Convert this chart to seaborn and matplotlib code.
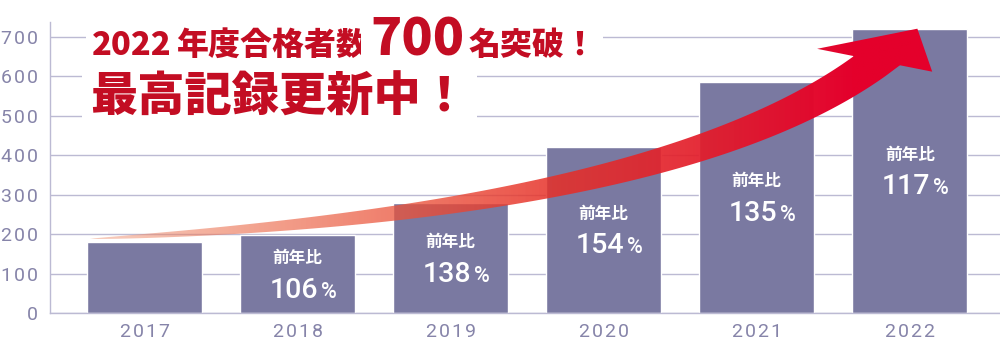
import numpy as np
import pandas as pd
import matplotlib
matplotlib.use("Agg")
import matplotlib.pyplot as plt
import seaborn as sns
from matplotlib.patches import Polygon

# ---- data -------------------------------------------------------------
years = ["2017", "2018", "2019", "2020", "2021", "2022"]
passers = [180, 197, 278, 421, 587, 721]
yoy_pct = [None, 106, 138, 154, 135, 117]
yticks = [0, 100, 200, 300, 400, 500, 600, 700]

headline_1 = ["2022", "年度合格者数", "700", "名突破！"]
headline_2 = "最高記録更新中！"
yoy_caption = "前年比"

# ---- style ------------------------------------------------------------
BAR = "#7a79a1"
GRID = "#bcbad3"
TICK = "#8684a9"
RED = "#c30d23"
CJK = ["Noto Sans CJK JP", "DejaVu Sans"]
HAIR = "\u200a"


def spaced(s):
    """Open up digit spacing a little, like the tracked axis lettering."""
    return HAIR.join(str(s))


sns.set_theme(style="white")
plt.rcParams["font.family"] = ["Roboto", "DejaVu Sans"]

W, H = 1000, 342
fig = plt.figure(figsize=(W / 100, H / 100), dpi=100, facecolor="white")
ax = fig.add_axes([50 / W, 29 / H, 950 / W, 291 / H])

df = pd.DataFrame({"year": years, "passers": passers})
sns.barplot(data=df, x="year", y="passers", color=BAR, saturation=1,
            width=0.75, ax=ax, zorder=2)

XLIM = (-0.618, 5.59)
YLIM = (0, 738)
ax.set_xlim(*XLIM)
ax.set_ylim(*YLIM)
ax.set_yticks(yticks)
ax.set_yticklabels([spaced(v) for v in yticks])
ax.set_xticks(range(len(years)))
ax.set_xticklabels([spaced(y) for y in years])
ax.set_xlabel("")
ax.set_ylabel("")
ax.yaxis.grid(True, color=GRID, lw=1.0)
ax.set_axisbelow(True)
for side in ("top", "right"):
    ax.spines[side].set_visible(False)
for side in ("left", "bottom"):
    ax.spines[side].set_color(GRID)
    ax.spines[side].set_linewidth(1.0)
ax.tick_params(axis="y", length=0, pad=8.5, labelsize=14, labelcolor=TICK)
ax.tick_params(axis="x", length=0, pad=7, labelsize=14, labelcolor=TICK)

# ---- growth arrow -------------------------------------------------------
n = len(years)
arrow_start = (-0.356, 188)
arrow_c1 = (2.0, 231)
arrow_c2 = (3.83, 363)
arrow_neck = (4.775, 637)
arrow_tip = (n - 1 + 0.05, passers[-1])
arrow_left_barb = (4.395, 670)
arrow_right_barb = (5.147, 612)

T = ax.transData
P0, P1, P2, P3 = [np.asarray(T.transform(p)) for p in
                  (arrow_start, arrow_c1, arrow_c2, arrow_neck)]
t = np.linspace(0, 1, 260)[:, None]
B = (1 - t) ** 3 * P0 + 3 * (1 - t) ** 2 * t * P1 + 3 * (1 - t) * t ** 2 * P2 + t ** 3 * P3
D = 3 * (1 - t) ** 2 * (P1 - P0) + 6 * (1 - t) * t * (P2 - P1) + 3 * t ** 2 * (P3 - P2)
U = D / np.linalg.norm(D, axis=1, keepdims=True)
N = np.column_stack([-U[:, 1], U[:, 0]])
half = 17.5 * t[:, 0] ** 0.72
centre = np.vstack([B, P3 + U[-1] * 18])
normals = np.vstack([N, N[-1]])
halfw = np.append(half, half[-1])[:, None]
upper = centre + normals * halfw
lower = centre - normals * halfw
body = T.inverted().transform(np.vstack([upper, lower[::-1]]))
head = np.array([arrow_left_barb, arrow_tip, arrow_right_barb])

# horizontal colour ramp: pale salmon, see-through -> saturated red
stops = np.array([0.0, 0.19, 0.40, 0.57, 0.74, 0.92, 1.0])
look = np.array([[247, 205, 190], [243, 165, 145], [239, 118, 100],
                 [234, 76, 70], [229, 45, 58], [228, 0, 43], [228, 0, 43]], float)
alpha = np.array([0.5, 0.65, 0.78, 0.86, 0.93, 1.0, 1.0])
base_rgb = np.clip((look - (1 - alpha[:, None]) * 255) / alpha[:, None], 0, 255) / 255

x0, x1 = arrow_start[0] - 0.05, arrow_right_barb[0] + 0.05
xs = np.linspace(x0, x1, 900)
f = np.clip((xs - arrow_start[0]) / (arrow_tip[0] - arrow_start[0]), 0, 1)
ramp = np.zeros((2, xs.size, 4))
for k in range(3):
    ramp[:, :, k] = np.interp(f, stops, base_rgb[:, k])
ramp[:, :, 3] = np.interp(f, stops, alpha)

for shape in (body, head):
    clip = Polygon(shape, closed=True, transform=ax.transData)
    im = ax.imshow(ramp, extent=[x0, x1, YLIM[0], YLIM[1]], origin="lower",
                   aspect="auto", interpolation="bilinear", zorder=4)
    im.set_clip_path(clip)
ax.set_xlim(*XLIM)
ax.set_ylim(*YLIM)

# ---- year-on-year labels inside bars -----------------------------------
for i, (v, p) in enumerate(zip(passers, yoy_pct)):
    if p is None:
        continue
    mid = v / 2
    ax.annotate(yoy_caption, (i, mid), xytext=(0, 16), textcoords="offset pixels",
                ha="center", va="center", color="white", fontsize=12,
                fontweight="bold", family=CJK, zorder=6)
    ax.annotate(str(p), (i, mid), xytext=(20.5, -23.5), textcoords="offset pixels",
                ha="right", va="baseline", color="white", fontsize=20.5,
                fontweight="medium", family=["Roboto", "DejaVu Sans"], zorder=6)
    ax.annotate("%", (i, mid), xytext=(23, -23.5), textcoords="offset pixels",
                ha="left", va="baseline", color="white", fontsize=15.5,
                fontweight="medium", family=["Roboto"], zorder=6)

# ---- headline ---------------------------------------------------------
knock = dict(boxstyle="square,pad=0.18", fc="white", ec="none")
base1 = H - 55
sizes = [23.5, 23, 37, 23]
gaps = [0, 4, 3, 4]
prev = None
for txt, size, gap in zip(headline_1, sizes, gaps):
    if prev is None:
        prev = ax.annotate(txt, xy=(92, base1), xycoords="figure pixels",
                           ha="left", va="baseline", color=RED, fontsize=size,
                           fontweight="heavy", family=CJK, bbox=knock, zorder=8)
    else:
        prev = ax.annotate(txt, xy=(1, base1), xycoords=(prev, "figure pixels"),
                           xytext=(gap, 0), textcoords="offset pixels",
                           ha="left", va="baseline", color=RED, fontsize=size,
                           fontweight="heavy", family=CJK, bbox=knock, zorder=8)

ax.annotate(headline_2, xy=(90, H - 112), xycoords="figure pixels",
            ha="left", va="baseline", color=RED, fontsize=34,
            fontweight="heavy", family=CJK, bbox=knock, zorder=8)

fig.savefig("out.png", dpi=100, facecolor="white")
